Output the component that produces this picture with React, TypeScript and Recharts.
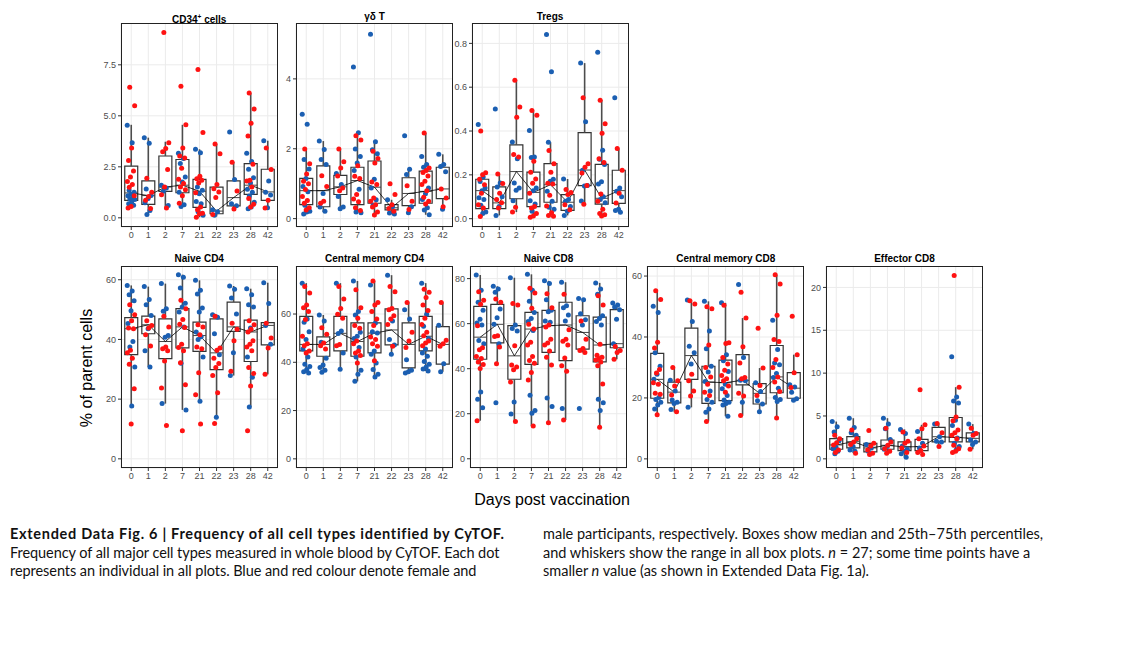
import React from 'react';
import {
  ComposedChart,
  XAxis,
  YAxis,
  CartesianGrid,
  Scatter,
  Line,
  ReferenceArea,
  ReferenceLine
} from 'recharts';

const DAYS = ['0', '1', '2', '7', '21', '22', '23', '28', '42'];
const BLUE = '#1b5fb2';
const RED = '#ff1212';

// box stats per day: [whisker low, q1, median, q3, whisker high]
const CD34_BOX = [
  [0.53, 0.86, 1.22, 2.53, 4.56], [0.12, 0.66, 1.09, 1.81, 3.93], [0.53, 1.3, 1.51, 3.03, 3.73],
  [0.56, 1.23, 1.6, 2.86, 4.56], [0.03, 0.51, 1.3, 1.88, 3.36], [0.07, 0.2, 0.33, 1.5, 3.62],
  [0.39, 0.59, 0.99, 1.81, 2.73], [0.43, 1.15, 1.6, 2.66, 6.12], [0.46, 0.86, 1.27, 2.38, 3.78]
];
const CD34_F = [
  [4.54, 3.68, 1.35, 1.25, 1.15, 1.08, 1.0, 0.94, 0.9, 0.8, 0.69, 0.62],
  [3.93, 3.65, 1.41, 1.1, 0.95, 0.74, 0.36, 0.16],
  [1.6, 1.46, 1.3, 0.61],
  [3.16, 2.91, 2.66, 2.0, 1.76, 1.25, 0.64, 0.56],
  [3.36, 3.19, 1.51, 1.35, 1.18, 0.8, 0.69, 0.3, 0.12],
  [0.39, 0.3, 0.12],
  [4.21, 1.88, 0.69, 0.59],
  [3.16, 2.76, 2.38, 1.96, 1.71, 1.4, 1.25, 1.07, 0.76, 0.53, 0.44],
  [3.78, 1.81, 1.25, 1.12, 0.49]
];
const CD34_M = [
  [6.4, 5.49, 3.42, 2.81, 2.3, 2.0, 1.78, 1.63, 1.5, 1.08, 0.56, 0.48],
  [1.94, 1.25, 1.05, 0.86, 0.46],
  [9.08, 3.68, 3.4, 3.24, 2.37, 1.51, 1.13, 0.48],
  [6.45, 4.56, 3.42, 3.03, 2.93, 2.43, 1.89, 1.68, 1.51, 1.38, 1.08, 0.72],
  [7.27, 4.18, 2.04, 1.92, 1.84, 1.71, 1.23, 0.53, 0.39, 0.23, 0.2, 0.03],
  [3.62, 3.14, 1.63, 1.43, 1.27, 0.99, 0.16],
  [2.73, 1.32, 0.43],
  [6.12, 5.33, 4.64, 4.01, 2.62, 1.84, 1.81, 1.51, 0.95, 0.66, 0.53],
  [3.42, 2.37, 0.86, 0.48]
];

const GD_BOX = [
  [0.13, 0.4, 0.8, 1.15, 1.99], [0.19, 0.34, 0.8, 1.51, 2.22], [0.28, 0.69, 0.91, 1.24, 1.99],
  [0.17, 0.4, 1.09, 1.47, 2.46], [0.07, 0.44, 0.9, 1.65, 2.2], [0.13, 0.25, 0.31, 0.4, 0.54],
  [0.17, 0.37, 0.72, 1.17, 1.41], [0.11, 0.44, 0.78, 1.36, 2.45], [0.27, 0.57, 0.85, 1.47, 1.84]
];
const GD_F = [
  [2.99, 2.7, 1.69, 1.42, 1.15, 0.92, 0.77, 0.38, 0.21, 0.19, 0.13],
  [2.22, 1.98, 1.69, 1.55, 0.72, 0.33, 0.21],
  [1.29, 0.98, 0.63, 0.33, 0.28],
  [4.34, 2.46, 1.99, 1.78, 1.59, 1.38, 0.84, 0.19, 0.17],
  [5.28, 2.2, 1.97, 1.86, 1.13, 0.88, 0.54, 0.38],
  [0.54, 0.34, 0.16, 0.13],
  [2.37, 1.41, 1.26, 0.34, 0.17],
  [1.78, 1.55, 1.47, 0.88, 0.71, 0.55, 0.31, 0.25, 0.11],
  [1.84, 1.55, 1.49, 1.34, 0.27]
];
const GD_M = [
  [1.99, 1.57, 1.28, 1.07, 1.0, 0.83, 0.63, 0.52, 0.44, 0.31, 0.25],
  [1.23, 0.92, 0.5, 0.44],
  [1.99, 1.63, 1.45, 1.22, 0.88, 0.8],
  [2.37, 2.25, 1.51, 1.21, 1.15, 0.69, 0.56, 0.48, 0.31, 0.23],
  [1.93, 1.72, 1.59, 1.05, 0.98, 0.59, 0.5, 0.4, 0.33, 0.19, 0.1],
  [1.0, 0.69, 0.4, 0.29, 0.21],
  [0.94, 0.5, 0.26],
  [2.45, 1.45, 1.38, 1.32, 1.22, 1.07, 0.98, 0.8, 0.61, 0.5, 0.42],
  [0.85, 0.59, 0.34]
];

const TREG_BOX = [
  [0.01, 0.046, 0.128, 0.18, 0.21], [0.015, 0.046, 0.072, 0.145, 0.204], [0.03, 0.091, 0.215, 0.337, 0.632],
  [0.006, 0.055, 0.12, 0.212, 0.494], [0.011, 0.075, 0.155, 0.251, 0.349], [0.015, 0.038, 0.075, 0.11, 0.181],
  [0.066, 0.151, 0.222, 0.393, 0.71], [0.012, 0.066, 0.093, 0.248, 0.541], [0.029, 0.07, 0.128, 0.221, 0.32]
];
const TREG_F = [
  [0.43, 0.19, 0.17, 0.14, 0.128, 0.095, 0.087, 0.061, 0.03, 0.024],
  [0.5, 0.163, 0.145, 0.1, 0.056, 0.015],
  [0.35, 0.273, 0.163, 0.14, 0.13, 0.082],
  [0.402, 0.282, 0.279, 0.14, 0.128, 0.082, 0.067, 0.034],
  [0.841, 0.67, 0.349, 0.18, 0.171, 0.125, 0.079, 0.052, 0.043],
  [0.181, 0.087, 0.079, 0.055, 0.034, 0.015],
  [0.71, 0.442, 0.221, 0.151, 0.149, 0.081],
  [0.76, 0.312, 0.271, 0.247, 0.168, 0.158, 0.1, 0.088, 0.073],
  [0.552, 0.14, 0.125, 0.1, 0.043, 0.037, 0.029]
];
const TREG_M = [
  [0.4, 0.21, 0.2, 0.18, 0.155, 0.116, 0.064, 0.049, 0.01],
  [0.204, 0.16, 0.116, 0.087, 0.073, 0.049],
  [0.632, 0.51, 0.463, 0.293, 0.282, 0.052, 0.03],
  [0.494, 0.472, 0.262, 0.212, 0.181, 0.162, 0.116, 0.055, 0.049, 0.024, 0.012, 0.006],
  [0.311, 0.251, 0.212, 0.162, 0.158, 0.107, 0.058, 0.027, 0.015, 0.011],
  [0.133, 0.12, 0.11, 0.064, 0.041],
  [0.552, 0.251, 0.235, 0.209, 0.151, 0.066],
  [0.541, 0.433, 0.39, 0.274, 0.256, 0.113, 0.079, 0.043, 0.024, 0.018, 0.012],
  [0.32, 0.221, 0.116, 0.072]
];

const NCD4_BOX = [
  [17.7, 34.9, 43.6, 47.3, 58.1], [30.8, 41.9, 44.9, 47.8, 57.7], [18.5, 33.6, 39.3, 46.9, 58.7],
  [16.4, 37.2, 44.2, 50.3, 61.7], [19.3, 36, 41.3, 45.8, 59.8], [13.9, 29.9, 35.5, 46.9, 48.3],
  [27.9, 42.7, 44.2, 52.5, 57.9], [17.4, 32.6, 42.5, 46.5, 57], [28.3, 38.2, 44.7, 45.6, 59]
];
const NCD4_F = [
  [58.1, 56.2, 55, 53, 49.6, 45.3, 39.3, 37.5, 30.8, 17.7],
  [57.7, 53.4, 51.6, 48, 43.6, 36.2, 30.8],
  [58.7, 50.3, 49.4, 41.3, 40.7, 18.5],
  [61.7, 60.8, 57.2, 52.1, 50.9, 49.2, 44.2, 32, 16.4],
  [59.8, 56.5, 55.2, 50.5, 49.2, 42.5, 40.9, 40, 34.1, 19.3],
  [48.3, 47.4, 41.9, 34.9, 13.9],
  [57.9, 56.8, 53.9, 48.5, 35.5, 27.9],
  [57, 55, 51.6, 50.9, 43.8, 34.1, 27.3, 17.4],
  [59, 52, 44.7, 38.4]
];
const NCD4_M = [
  [51.6, 48.3, 46.3, 43.8, 43.6, 36.4, 35.5, 33.7, 31.7, 23.5, 11.7],
  [46.3, 44.7, 43.8, 41.6, 37.8],
  [47.8, 44.2, 37.5, 36.9, 36.2, 32.8, 23.7, 11.2],
  [53.1, 50.3, 46.7, 45.1, 44, 38.4, 37.3, 36.2, 32.2, 24.8, 9.4],
  [44.9, 44.2, 41.6, 37.5, 36.9, 28.8, 21.5, 11.7],
  [47.8, 37.1, 36.4, 33.7, 31.9, 30.6, 27.9, 22.1, 11.8],
  [45.4, 43.4, 39.6, 29.3],
  [46.3, 44.9, 43.4, 42.5, 39.6, 38.4, 37.5, 36.2, 30.6, 28.6, 24.4, 9.4],
  [45.4, 40.5, 37.1, 28.3]
];

const CMCD4_BOX = [
  [35.6, 44.7, 47.4, 59, 72.8], [35.9, 42.5, 47.4, 50.5, 59.6], [37.1, 44.7, 52, 59, 72.8],
  [32.1, 42.5, 48.6, 56.3, 73.7], [33.9, 43.9, 52.1, 56.3, 73.7], [43.3, 47.2, 53.4, 62.1, 76.1],
  [35.6, 37.7, 47.4, 56.3, 64.8], [36.4, 44.7, 50.8, 59, 72.8], [36.1, 39.2, 47.4, 54.8, 64.8]
];
const CMCD4_F = [
  [72.8, 57.9, 56.6, 52.7, 49.4, 45.5, 42.2, 39.2, 38.3, 37, 36.1, 35.6],
  [59.6, 57.1, 48.3, 41.7, 38.9, 37.8, 36.7, 35.9],
  [72.8, 53, 51.9, 43.9, 37.1],
  [73.7, 61, 59.6, 52.4, 50.8, 49.9, 46.1, 42.2, 36.7, 35, 32.1],
  [72, 56.3, 52.7, 52.1, 44.7, 43.3, 39.7, 37, 35, 33.9],
  [76.1, 57.1, 49.4, 47.2, 43.3],
  [61.8, 57.9, 41.1, 36.7, 36.1, 35.6],
  [72.8, 59.9, 54.9, 49.9, 45.5, 43.9, 42.5, 40.3, 39.2, 38.1, 37.2, 36.4],
  [55.4, 39.4, 36.1]
];
const CMCD4_M = [
  [71.4, 68.7, 63.7, 62.6, 61, 57.7, 50.8, 47.7, 46.9, 44.7, 43.9],
  [54.3, 51.6, 48, 46.9, 45.5],
  [71.4, 66.2, 62.3, 59.9, 58.2, 47.4, 46.9],
  [70.1, 62.6, 58.2, 55.2, 54.1, 48.8, 47.7, 44.7, 43.9, 42.8, 39.7],
  [73.7, 64.8, 63.7, 61, 57.9, 55.2, 50.5, 49.4, 47.7, 46.6, 40.6],
  [71.4, 69.2, 62.3, 61.8, 59.3, 57.9, 55.7, 46.6],
  [64.8, 52.4, 48.8, 46.1],
  [70.3, 69, 66.8, 63.7, 61.5, 58.2, 55.7, 52.4, 51, 48.8, 48, 46.9],
  [64.8, 49.1, 47.7, 46.6]
];

const NCD8_BOX = [
  [16.9, 44.2, 54, 67.7, 81.6], [42.2, 51.5, 59.7, 68.6, 76.6], [16.6, 35.3, 45.7, 59.1, 80.4],
  [14.5, 41.9, 57.6, 65, 81.9], [16, 47.2, 59.1, 65.9, 79], [17.2, 43.6, 59.4, 69.5, 78.4],
  [47.2, 48.7, 56.1, 63.5, 71.2], [14, 43, 50.5, 62.9, 78.1], [44.2, 49.3, 51.1, 66.2, 69.2]
];
const NCD8_F = [
  [81.6, 74.8, 69.5, 65.9, 62, 60.3, 59.4, 52.5, 51.1, 29.7, 26.4, 22.6],
  [76.6, 75.4, 73.9, 66.5, 62.6, 59.7, 51.1, 24.9],
  [80.4, 59.4, 57.9, 56.7, 25.2, 19.9],
  [81.9, 74.8, 70, 65, 62.3, 60.9, 57, 28.2, 21.4, 20.2],
  [79, 77.8, 70.6, 65.9, 65.3, 61.2, 60.6, 27, 23.2],
  [78.4, 68, 67.1, 63.8, 61.2, 22.3],
  [71.2, 70.6, 64.4, 61.7, 59.4, 22.3],
  [78.1, 75.4, 73, 63.5, 62.3, 60.9, 59.4, 26.4, 24.9, 21.4],
  [69.2, 68.3, 67.4, 66.2, 62, 51.1]
];
const NCD8_M = [
  [74.2, 70.4, 68.6, 59.1, 49.3, 48.4, 45.4, 44.5, 43, 41.9, 40.1, 16.9],
  [71, 69.5, 54.6, 54.3, 49.6, 42.2],
  [68.9, 68.3, 50.2, 41.6, 40.7, 39.5, 34.1, 16.6],
  [75.7, 73.6, 66.8, 59.7, 57.6, 51.7, 50.5, 45.4, 43.6, 42.4, 38.3, 35, 14.5],
  [73.3, 67.1, 59.4, 58.5, 53.1, 51.4, 50.5, 47.8, 45.1, 41.6, 16],
  [73, 57.3, 53.1, 52.2, 50.5, 44.8, 41.3, 38.9, 17.2],
  [61.2, 53.1, 49, 48.1, 47.2],
  [72.4, 68.3, 50.8, 46, 45.1, 44.5, 43.9, 43, 41.3, 33.2, 14],
  [49.9, 48.1, 47.2, 44.2]
];

const CMCD8_BOX = [
  [14.5, 19.9, 26.1, 34.6, 55.2], [15.3, 18.4, 21.9, 25.2, 30], [16.9, 26.1, 33.9, 42.9, 52.1],
  [12.3, 18.2, 25.2, 30.4, 51.7], [14, 19.1, 25, 32.4, 51.2], [14.2, 24.3, 25.8, 34.2, 46.2],
  [15.5, 18, 21.5, 24.7, 29.8], [13.4, 21.7, 26.9, 37.2, 60.4], [19.2, 19.9, 23.2, 28.3, 34.2]
];
const CMCD8_F = [
  [50.1, 48, 34.8, 30.4, 27.8, 26.1, 20.1, 19.5, 18.6, 17.7, 16.4],
  [25.8, 22.3, 19.3, 18.6, 18.2, 16.2],
  [52.1, 45.1, 37, 34.8, 31.1, 16.9],
  [51.7, 42, 36.1, 30.4, 28.5, 25.4, 22.3, 19.5, 18.6, 16.4, 15.3],
  [51.2, 34.2, 32.2, 28.7, 24.5, 23, 20.8, 19.3, 18.6, 18.2, 17.7, 14],
  [57.2, 33.3, 25.8, 25.6, 18.6],
  [25, 22.1, 19.1, 18, 15.5],
  [45.5, 35.9, 31.5, 30.9, 28, 26.7, 23.2, 20.1, 19.5, 18.8],
  [24.3, 23.6, 21.9, 19.7, 19.2]
];
const CMCD8_M = [
  [55.2, 52.3, 38.3, 36.4, 29.3, 28.2, 25, 24.5, 21.5, 21.2, 14.5],
  [30, 25.6, 23.9, 21, 15.5],
  [51.9, 50.8, 27.8, 25.6, 22.3, 20.6],
  [49.9, 49.3, 37.4, 30, 26.9, 24.5, 21.9, 20.8, 12.3],
  [50.4, 38.1, 37.9, 33.3, 31.1, 29.1, 27.4, 26.3, 25.6, 23.9, 21.9],
  [54.7, 46.2, 36.8, 31.5, 26.7, 26.3, 21.5, 20.6, 14.2],
  [42.9, 29.8, 24.1, 20.8],
  [60.4, 57.4, 47.1, 39.2, 38.5, 32.6, 30, 26.9, 25.2, 22.1, 13.4],
  [46.8, 34.2, 28.3, 23.4]
];

const EFF_BOX = [
  [0.58, 1.12, 1.62, 2.35, 4.35], [0.66, 1.27, 2.0, 2.58, 4.74], [0.5, 0.81, 1.27, 1.81, 1.81],
  [0.58, 1.12, 1.58, 2.2, 4.74], [0.19, 0.96, 1.39, 1.97, 3.43], [0.5, 0.96, 1.43, 2.27, 3.97],
  [1.43, 1.97, 2.58, 3.66, 4.12], [0.73, 1.97, 2.5, 4.82, 8.36], [1.12, 1.97, 2.39, 3.04, 4.05]
];
const EFF_F = [
  [4.35, 3.74, 3.12, 2.12, 1.35, 1.19, 0.89, 0.58],
  [4.74, 3.66, 3.04, 2.74, 1.43, 1.04, 0.89],
  [1.66, 1.27, 0.89],
  [4.74, 4.05, 3.51, 2.27, 1.43, 1.12],
  [3.43, 2.97, 1.5, 1.12, 0.89, 0.58, 0.19],
  [3.2, 1.81, 1.27],
  [4.05, 2.58, 2.04, 1.97],
  [11.9, 7.21, 6.74, 6.51, 4.51, 3.89, 2.43, 1.81, 1.43, 1.04],
  [4.05, 2.97, 2.2, 1.97, 1.66]
];
const EFF_M = [
  [2.74, 2.35, 1.89, 1.62, 1.04, 0.73],
  [3.35, 2.35, 1.97, 1.66, 0.66],
  [3.31, 1.81, 1.5, 1.04, 0.66, 0.5],
  [3.58, 1.97, 1.58, 1.19, 0.89, 0.66],
  [3.12, 2.04, 1.81, 1.27, 0.73],
  [8.05, 3.97, 3.51, 2.35, 1.5, 0.96, 0.73, 0.5],
  [4.12, 3.04, 1.43],
  [21.4, 8.36, 4.89, 4.43, 3.35, 3.04, 2.74, 2.35, 1.58, 1.19, 0.89, 0.73],
  [3.58, 2.97, 2.74, 1.12]
];

// panel geometry (plot area) and axes
const PW = 157;
const YW = 34;
const XH = 22;
const BW = 0.38; // half box width, in category units

const PANELS = [
  { key: 'cd34', title: <>CD34<sup style={{ fontSize: 6.5 }}>+</sup> cells</>, box: CD34_BOX, fem: CD34_F, mal: CD34_M, domain: [-0.45, 9.55], ticks: [0, 2.5, 5, 7.5], digits: 1, left: 120.7, top: 23, h: 204 },
  { key: 'gd', title: 'γδ T', box: GD_BOX, fem: GD_F, mal: GD_M, domain: [-0.24, 5.6], ticks: [0, 2, 4], digits: 0, left: 296, top: 23, h: 204 },
  { key: 'treg', title: 'Tregs', box: TREG_BOX, fem: TREG_F, mal: TREG_M, domain: [-0.038, 0.893], ticks: [0, 0.2, 0.4, 0.6, 0.8], digits: 1, left: 471.5, top: 23, h: 204 },
  { key: 'ncd4', title: 'Naive CD4', box: NCD4_BOX, fem: NCD4_F, mal: NCD4_M, domain: [-3.07, 64.6], ticks: [0, 20, 40, 60], digits: 0, left: 120.7, top: 265.5, h: 202 },
  { key: 'cmcd4', title: 'Central memory CD4', box: CMCD4_BOX, fem: CMCD4_F, mal: CMCD4_M, domain: [-3.8, 79.9], ticks: [0, 20, 40, 60], digits: 0, left: 296, top: 265.5, h: 202 },
  { key: 'ncd8', title: 'Naive CD8', box: NCD8_BOX, fem: NCD8_F, mal: NCD8_M, domain: [-4.1, 85.6], ticks: [0, 20, 40, 60, 80], digits: 0, left: 470, top: 265.5, h: 202 },
  { key: 'cmcd8', title: 'Central memory CD8', box: CMCD8_BOX, fem: CMCD8_F, mal: CMCD8_M, domain: [-3.0, 63.3], ticks: [0, 20, 40, 60], digits: 0, left: 647.3, top: 265.5, h: 202 },
  { key: 'eff', title: 'Effector CD8', box: EFF_BOX, fem: EFF_F, mal: EFF_M, domain: [-1.07, 22.5], ticks: [0, 5, 10, 15, 20], digits: 0, left: 826, top: 265.5, h: 202 }
];

const toPoints = (groups: number[][], seed: number) =>
  groups.flatMap((g, i) => g.map((v, k) => ({ x: i, y: v, k, s: seed })));

// small deterministic horizontal spread for the dots
const makeDot = (color: string) => (props: any) => {
  const { cx, cy, payload } = props;
  if (cx == null || cy == null || isNaN(cx) || isNaN(cy)) return null;
  const k = payload?.k ?? 0;
  const s = payload?.s ?? 0;
  const j = (((k * 0.618034 + s) % 1) - 0.5) * 8;
  return <circle cx={cx + j} cy={cy} r={2.5} fill={color} />;
};

const blueDot = makeDot(BLUE);
const redDot = makeDot(RED);

const Panel = ({ p }: { p: any }) => {
  const meds = p.box.map((b: number[], i: number) => ({ x: i, y: b[2] }));
  const femPts = toPoints(p.fem, 0);
  const malPts = toPoints(p.mal, 0.31);
  const tickStyle = { fontSize: 9, fill: '#4d4d4d', fontFamily: 'Liberation Sans, Arial, sans-serif' };

  return (
    <>
      <div
        style={{
          position: 'absolute',
          left: p.left,
          top: p.top - 12.5,
          width: PW,
          textAlign: 'center',
          fontSize: 10,
          fontWeight: 'bold',
          lineHeight: '12px',
          color: '#000'
        }}
      >
        {p.title}
      </div>
      <div style={{ position: 'absolute', left: p.left - YW, top: p.top }}>
        <ComposedChart width={PW + YW} height={p.h + XH} margin={{ top: 0, right: 0, bottom: 0, left: 0 }}>
          <CartesianGrid stroke="#ebebeb" strokeWidth={1} />
          <XAxis
            type="number"
            dataKey="x"
            domain={[-0.6, 8.6]}
            ticks={DAYS.map((_, i) => i)}
            tickFormatter={(i: number) => DAYS[i]}
            interval={0}
            allowDataOverflow
            axisLine={false}
            tickSize={3}
            tickMargin={2}
            height={XH}
            tick={tickStyle}
            tickLine={{ stroke: '#333' }}
          />
          <YAxis
            type="number"
            dataKey="y"
            domain={p.domain}
            ticks={p.ticks}
            allowDataOverflow
            width={YW}
            axisLine={false}
            tickSize={3}
            tickMargin={2}
            tick={tickStyle}
            tickLine={{ stroke: '#333' }}
            tickFormatter={(v: number) => v.toFixed(p.digits)}
          />
          {p.box.map((b: number[], i: number) => (
            <ReferenceLine key={'wl' + i} segment={[{ x: i, y: b[0] }, { x: i, y: b[1] }]} stroke="#4d4d4d" strokeWidth={1.6} />
          ))}
          {p.box.map((b: number[], i: number) => (
            <ReferenceLine key={'wh' + i} segment={[{ x: i, y: b[3] }, { x: i, y: b[4] }]} stroke="#4d4d4d" strokeWidth={1.6} />
          ))}
          {p.box.map((b: number[], i: number) => (
            <ReferenceArea
              key={'bx' + i}
              x1={i - BW}
              x2={i + BW}
              y1={b[1]}
              y2={b[3]}
              fill="#fff"
              fillOpacity={1}
              stroke="#333"
              strokeWidth={1.2}
            />
          ))}
          {p.box.map((b: number[], i: number) => (
            <ReferenceLine key={'md' + i} segment={[{ x: i - BW, y: b[2] }, { x: i + BW, y: b[2] }]} stroke="#444" strokeWidth={1} />
          ))}
          <Line data={meds} dataKey="y" stroke="#000" strokeWidth={0.8} dot={false} isAnimationActive={false} />
          <Scatter data={femPts} dataKey="y" shape={blueDot} isAnimationActive={false} />
          <Scatter data={malPts} dataKey="y" shape={redDot} isAnimationActive={false} />
        </ComposedChart>
      </div>
      <div
        style={{
          position: 'absolute',
          left: p.left,
          top: p.top,
          width: PW,
          height: p.h,
          border: '1px solid #222',
          boxSizing: 'border-box',
          pointerEvents: 'none'
        }}
      />
    </>
  );
};

const capStyle: React.CSSProperties = {
  position: 'absolute',
  top: 525,
  fontFamily: 'Lato, "Open Sans", sans-serif',
  fontSize: 14.5,
  lineHeight: '18.5px',
  color: '#111',
  whiteSpace: 'nowrap'
};

export default function App() {
  return (
    <div
      style={{
        position: 'absolute',
        left: 0,
        top: 0,
        width: 1122,
        height: 652,
        background: '#fff',
        fontFamily: 'Liberation Sans, Arial, sans-serif',
        overflow: 'hidden'
      }}
    >
      {PANELS.map((p) => (
        <Panel key={p.key} p={p} />
      ))}

      <div
        style={{
          position: 'absolute',
          left: 87 - 100,
          top: 368 - 10,
          width: 200,
          lineHeight: '20px',
          textAlign: 'center',
          fontSize: 16,
          transform: 'rotate(-90deg)'
        }}
      >
        % of parent cells
      </div>
      <div
        style={{
          position: 'absolute',
          left: 452,
          top: 490,
          width: 200,
          lineHeight: '20px',
          textAlign: 'center',
          fontSize: 16
        }}
      >
        Days post vaccination
      </div>

      {/* caption */}
      <div style={{ ...capStyle, left: 10 }}>
        <div style={{ fontWeight: 'bold', letterSpacing: '0.7px' }}>
          Extended Data Fig. 6 | Frequency of all cell types identified by CyTOF.
        </div>
        <div style={{ letterSpacing: '-0.06px' }}>Frequency of all major cell types measured in whole blood by CyTOF. Each dot</div>
        <div style={{ letterSpacing: '-0.06px' }}>represents an individual in all plots. Blue and red colour denote female and</div>
      </div>
      <div style={{ ...capStyle, left: 543 }}>
        <div>male participants, respectively. Boxes show median and 25th–75th percentiles,</div>
        <div>
          and whiskers show the range in all box plots. <i>n</i> = 27; some time points have a
        </div>
        <div>
          smaller <i>n</i> value (as shown in Extended Data Fig. 1a).
        </div>
      </div>
    </div>
  );
}
